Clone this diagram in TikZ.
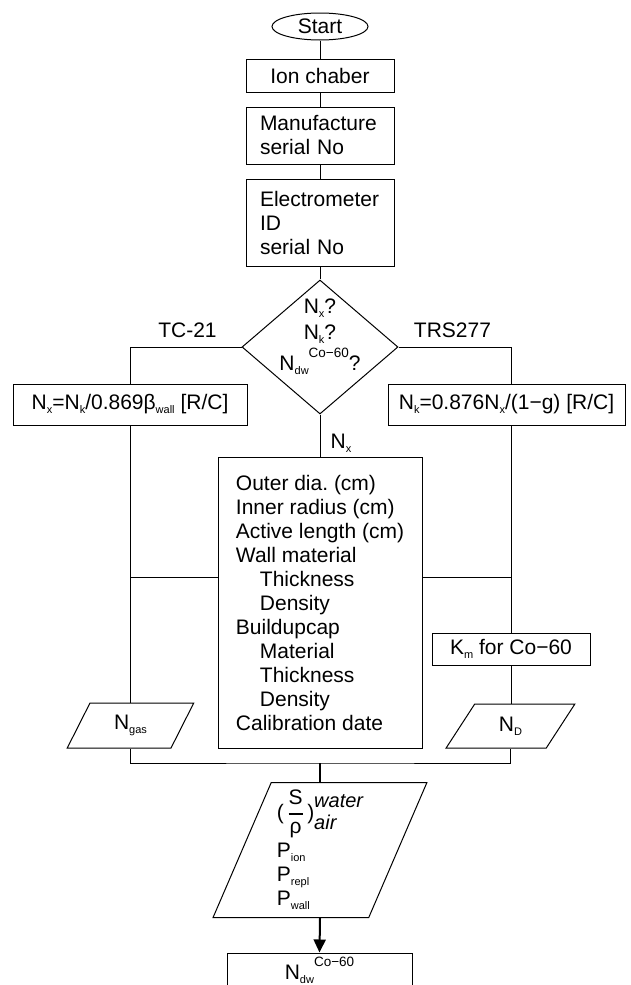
\documentclass[tikz,border=0pt]{standalone}
\usepackage{fontspec}
\usepackage{amsmath}
\setmainfont{Liberation Sans}
\usetikzlibrary{positioning,arrows.meta,shapes.geometric}

\newcommand{\lsub}[1]{\raisebox{-4pt}{\fontsize{11}{11}\selectfont #1}}
\newcommand{\lsup}[1]{\raisebox{13pt}{\fontsize{13.5}{13.5}\selectfont #1}}

\begin{document}
\frenchspacing
\begin{tikzpicture}[
    x=1pt, y=-1pt,
    font=\fontsize{21}{24}\selectfont,
    line width=1pt,
    blk/.style={rectangle, draw, inner sep=0pt, align=center},
    lblk/.style={blk, align=left, inner xsep=14pt, text width=120pt, minimum width=148pt},
    term/.style={ellipse, draw, inner sep=0pt, minimum width=96pt, minimum height=27pt},
    dec/.style={diamond, draw, inner sep=0pt, minimum width=156pt, minimum height=134pt},
    para/.style={trapezium, draw, inner sep=0pt, trapezium stretches=true, align=left},
    lbl/.style={inner sep=0pt, align=center},
    arr/.style={-{Triangle[length=13pt,width=12pt]}, line width=2pt}
  ]
  \clip (0,0) rectangle (631,985);

  \node[term] (start) at (320,26.5) {Start};
  \node[blk, minimum width=148pt, minimum height=33pt] (ion) at (320,75.5) {Ion chaber};
  \node[lblk, minimum height=57pt] (manu) at (320,135.5) {Manufacture\\serial No};
  \node[lblk, minimum height=87pt] (elec) at (320,222.5) {Electrometer\\ID\\serial No};

  \node[dec] (ask) at (320,347) {};
  \node[lbl] (asktxt) at (320,337) {N\lsub{x}?\\[2pt]N\lsub{k}?\\[4pt]N\lsub{dw}\lsup{Co−60}?};
  \node[lbl] (tc)  at (187.5,330.5) {TC-21};
  \node[lbl] (trs) at (452.5,330.5) {TRS277};

  \node[blk, minimum width=234pt, minimum height=41pt] (nxbox) at (130,404.5)
    {N\lsub{x}=N\lsub{k}/0.869β\lsub{wall} [R/C]};
  \node[blk, minimum width=237pt, minimum height=41pt] (nkbox) at (506.5,404.5)
    {N\lsub{k}=0.876N\lsub{x}/(1−g) [R/C]};

  \node[lbl] (nxlbl) at (341,443) {N\lsub{x}};
  \node[blk, align=left, minimum width=204pt, minimum height=291pt] (cbox) at (320,602.5)
    {Outer dia. (cm)\\Inner radius (cm)\\Active length (cm)\\Wall material\\
     \hspace*{24pt}Thickness\\\hspace*{24pt}Density\\Buildupcap\\
     \hspace*{24pt}Material\\\hspace*{24pt}Thickness\\\hspace*{24pt}Density\\Calibration date};

  \node[blk, minimum width=158pt, minimum height=32pt] (kmbox) at (511,649) {K\lsub{m} for Co−60};

  \node[para, trapezium left angle=66, trapezium right angle=114,
    minimum width=127pt, minimum height=45pt] (ngas) at (130.5,725.5) {N\lsub{gas}};
  \node[para, trapezium left angle=63.4, trapezium right angle=116.6,
    minimum width=129pt, minimum height=44pt] (nd) at (510.5,726) {N\lsub{D}};

  \node[para, trapezium left angle=66.7, trapezium right angle=113.3,
    minimum width=214pt, minimum height=135pt] (stp) at (320,850)
    {(\,$\genfrac{}{}{2.5pt}{0}{\text{S}}{\text{ρ}}$\,){\fontsize{20}{22}\selectfont\begin{tabular}[c]{@{}l@{}}\itshape water\\\itshape air\end{tabular}}\\[4pt]
     P\lsub{ion}\\P\lsub{repl}\\P\lsub{wall}};

  \node[blk, minimum width=185pt, minimum height=34pt] (ndw) at (319.5,970) {N\lsub{dw}\lsup{Co−60}};

  \coordinate (lj) at (130,577);
  \coordinate (rj) at (511,577);
  \coordinate (bj) at (320,763);

  \draw (start) -- (ion);
  \draw (ion) -- (manu);
  \draw (manu) -- (elec);
  \draw (elec) -- (ask);
  \draw (ask.west) -| (nxbox.north);
  \draw (ask.east) -| (kmbox.north |- nkbox.north);
  \draw (ask.south) -- (cbox.north);
  \draw (nxbox.south) -- (nxbox.south |- ngas.north);
  \draw (kmbox.north |- nkbox.south) -- (kmbox.north);
  \draw (kmbox.south) -- (kmbox.south |- nd.north);
  \draw (lj) -- (lj -| cbox.west);
  \draw (cbox.east |- rj) -- (rj);
  \draw (ngas.south) |- (bj) -| (nd.south);
  \draw[line width=2pt] (bj) -- (stp.north);
  \draw[arr] (stp.south) -- (ndw.north);
\end{tikzpicture}
\end{document}
